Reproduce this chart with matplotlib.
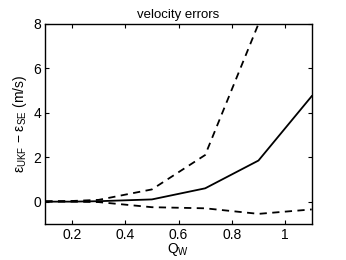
import matplotlib
matplotlib.use('Agg')
import matplotlib.pyplot as plt

plt.rcParams['font.family'] = ['Liberation Sans', 'DejaVu Sans']
plt.rcParams['mathtext.fontset'] = 'custom'
plt.rcParams['mathtext.rm'] = 'Liberation Sans'
plt.rcParams['mathtext.it'] = 'Liberation Sans'

# data
q_w = [0.1, 0.2, 0.3, 0.5, 0.7, 0.9, 1.1]
mean_err = [0.0, 0.0, 0.02, 0.1, 0.6, 1.85, 4.75]
upper_err = [0.02, 0.03, 0.08, 0.55, 2.1, 8.0, 14.0]
lower_err = [0.0, 0.0, -0.02, -0.25, -0.3, -0.55, -0.35]

fig = plt.figure(figsize=(3.46, 2.6), dpi=100)
ax = fig.add_axes([0.131, 0.139, 0.77, 0.769])

ax.plot(q_w, mean_err, 'k-', lw=1.3)
ax.plot(q_w, upper_err, 'k--', lw=1.3, dashes=(4, 3))
ax.plot(q_w, lower_err, 'k--', lw=1.3, dashes=(4, 3))

ax.set_xlim(0.1, 1.1)
ax.set_ylim(-1, 8)
ax.set_xticks([0.2, 0.4, 0.6, 0.8, 1.0])
ax.set_xticklabels(['0.2', '0.4', '0.6', '0.8', '1'])
ax.set_yticks([0, 2, 4, 6, 8])
ax.tick_params(direction='in', top=True, right=True, labelsize=10, length=3, pad=3)
for s in ax.spines.values():
    s.set_linewidth(1.0)

ax.set_title('velocity errors', fontsize=9.5, pad=4)
ax.set_xlabel(r'$\mathrm{Q_W}$', fontsize=10, labelpad=-1)
ax.set_ylabel(r'$\mathrm{\epsilon_{UKF}}$ − $\mathrm{\epsilon_{SE}}$ (m/s)', fontsize=10, labelpad=3)

fig.savefig('out.png', dpi=100)
